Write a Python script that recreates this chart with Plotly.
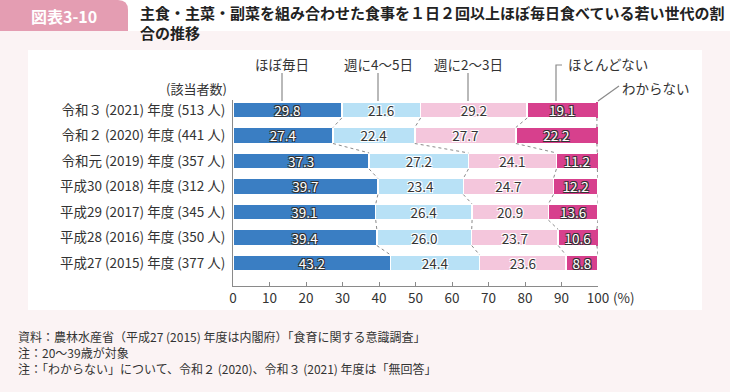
import plotly.graph_objects as go

# ---------------- data ----------------
row_labels = [
    "令和３ (2021) 年度 (513 人)",
    "令和２ (2020) 年度 (441 人)",
    "令和元 (2019) 年度 (357 人)",
    "平成30 (2018) 年度 (312 人)",
    "平成29 (2017) 年度 (345 人)",
    "平成28 (2016) 年度 (350 人)",
    "平成27 (2015) 年度 (377 人)",
]
series_names = ["ほぼ毎日", "週に4～5日", "週に2～3日", "ほとんどない", "わからない"]
almost_every_day = [29.8, 27.4, 37.3, 39.7, 39.1, 39.4, 43.2]
four_five_days = [21.6, 22.4, 27.2, 23.4, 26.4, 26.0, 24.4]
two_three_days = [29.2, 27.7, 24.1, 24.7, 20.9, 23.7, 23.6]
hardly_ever = [19.1, 22.2, 11.2, 12.2, 13.6, 10.6, 8.8]
dont_know = [0.2, 0.2, 0.3, 0, 0, 0.3, 0]
dont_know_labels = ["0.2", "0.2", "0.3", "0", "0", "0.3", "0"]
x_ticks = [0, 10, 20, 30, 40, 50, 60, 70, 80, 90, 100]

series = [almost_every_day, four_five_days, two_three_days, hardly_ever, dont_know]
colors = ["#3a7ec3", "#b8e1f6", "#f4c6dc", "#d7408d", "#d7408d"]
dark_text = [False, True, True, False, False]

FONT = "Noto Sans CJK JP"
y_pos = list(range(len(row_labels)))
BAR_W = 0.63

# figure pixel geometry -> paper coordinates helpers (layout decorations only)
W, H = 730, 392
ML, MR, MT, MB = 233, 132, 100, 106
PW, PH = W - ML - MR, H - MT - MB


def px(xp):
    return (xp - ML) / PW


def py(yp):
    return (H - MB - yp) / PH


fig = go.Figure()

WHITE_OUTLINE = "-1px -1px 0 #fff, 1px -1px 0 #fff, -1px 1px 0 #fff, 1px 1px 0 #fff"
DARK_OUTLINE = "-1px -1px 0 #333, 1px -1px 0 #333, -1px 1px 0 #333, 1px 1px 0 #333"

for k, (name, vals) in enumerate(zip(series_names, series)):
    is_last = k == len(series) - 1
    fig.add_trace(go.Bar(
        y=y_pos, x=vals, orientation="h", name=name, width=BAR_W,
        marker=dict(color=colors[k], line=dict(color="white", width=0 if is_last else 1.5)),
        text=None if is_last else [f"{v:.1f}" for v in vals],
        textposition="inside", insidetextanchor="middle", textangle=0,
        constraintext="none",
        textfont=dict(family=FONT, size=13.5,
                      color="#333" if dark_text[k] else "white",
                      shadow=WHITE_OUTLINE if dark_text[k] else DARK_OUTLINE),
        showlegend=False, hoverinfo="skip",
    ))

# cumulative boundaries for dotted connectors
cums = []
running = [0.0] * len(row_labels)
for vals in series[:4]:
    running = [r + v for r, v in zip(running, vals)]
    cums.append(list(running))

cx, cy = [], []
for c in cums:
    for i in range(len(row_labels) - 1):
        cx += [c[i], c[i + 1], None]
        cy += [i + BAR_W / 2, i + 1 - BAR_W / 2, None]
fig.add_trace(go.Scatter(x=cx, y=cy, mode="lines",
                         line=dict(color="#8a8a8a", width=1, dash="dot"),
                         showlegend=False, hoverinfo="skip"))

# "わからない" values outside the bars
totals = [sum(s[i] for s in series) for i in range(len(row_labels))]
fig.add_trace(go.Scatter(
    x=[t + 2.0 for t in totals], y=y_pos, mode="text", text=dont_know_labels,
    textposition="middle center", cliponaxis=False,
    textfont=dict(family=FONT, size=13.5, color="#333"),
    showlegend=False, hoverinfo="skip"))

shapes = []
# white title strip
shapes.append(dict(type="rect", xref="paper", yref="paper", x0=px(0), x1=px(W), y0=py(31), y1=py(0),
                   fillcolor="white", line=dict(width=0), layer="below"))
# pink title tab with rounded top-right corner
x0, x1, y0, y1, r = px(0), px(128), py(31), py(0), 10
shapes.append(dict(type="path", xref="paper", yref="paper",
                   path=(f"M {x0} {y0} L {x0} {y1} L {px(128 - r)} {y1} "
                         f"Q {x1} {y1} {x1} {py(r)} L {x1} {y0} Z"),
                   fillcolor="#e49db2", line=dict(width=0), layer="below"))
# white chart panel
shapes.append(dict(type="rect", xref="paper", yref="paper", x0=px(28), x1=px(702), y0=py(310), y1=py(50),
                   fillcolor="white", line=dict(width=0), layer="below"))

LC = "#8a8a8a"
# leader lines for series labels
for xv, ytop in [(282, 73), (378, 73), (468, 73)]:
    shapes.append(dict(type="line", xref="paper", yref="paper", x0=px(xv), x1=px(xv),
                       y0=py(ytop), y1=py(101), line=dict(color=LC, width=1.2)))
shapes.append(dict(type="path", xref="paper", yref="paper",
                   path=f"M {px(562)} {py(65)} L {px(556)} {py(65)} L {px(556)} {py(101)}",
                   line=dict(color=LC, width=1.2)))
shapes.append(dict(type="line", xref="paper", yref="paper", x0=px(598), x1=px(619),
                   y0=py(101), y1=py(86), line=dict(color=LC, width=1.2)))

annotations = []


def ann(text, x, y, size=13, color="#333", xanchor="center", yanchor="middle", weight=None):
    f = dict(family=FONT, size=size, color=color)
    if weight:
        f["weight"] = weight
    annotations.append(dict(text=text, x=px(x), y=py(y), xref="paper", yref="paper",
                            xanchor=xanchor, yanchor=yanchor, showarrow=False, font=f,
                            align="left"))


ann("図表3-10", 64, 16, size=16, color="white", weight=700)
ann("主食・主菜・副菜を組み合わせた食事を１日２回以上ほぼ毎日食べている若い世代の割<br>合の推移",
    138, 0, size=15, color="#222", xanchor="left", yanchor="top", weight=600)

ann(series_names[0], 282, 64, size=13.5)
ann(series_names[1], 378, 64, size=13.5)
ann(series_names[2], 468, 64, size=13.5)
ann(series_names[3], 566, 64, size=13.5, xanchor="left")
ann(series_names[4], 620, 88, size=13.5, xanchor="left")
ann("(該当者数)", 229, 88, size=13, xanchor="right")
ann("(%)", 611, 297, size=13.5, xanchor="left")

ann("資料：農林水産省（平成27 (2015) 年度は内閣府）「食育に関する意識調査」", 16, 336, size=12, xanchor="left")
ann("注：20～39歳が対象", 16, 352, size=12, xanchor="left")
ann("注：「わからない」について、令和２ (2020)、令和３ (2021) 年度は「無回答」", 16, 368, size=12, xanchor="left")

fig.update_layout(
    width=W, height=H,
    margin=dict(l=ML, r=MR, t=MT, b=MB, pad=0, autoexpand=False),
    barmode="stack", bargap=0.37,
    paper_bgcolor="#fbf3f4", plot_bgcolor="rgba(0,0,0,0)",
    font=dict(family=FONT, size=13, color="#333"),
    shapes=shapes, annotations=annotations,
    xaxis=dict(range=[0, 100], tickvals=x_ticks, ticktext=[str(t) for t in x_ticks],
               showgrid=False, zeroline=False, showline=True, linecolor=LC, linewidth=1,
               ticks="inside", ticklen=4, tickcolor=LC, tickwidth=1, automargin=False,
               tickfont=dict(family=FONT, size=13.5, color="#333"), fixedrange=True),
    yaxis=dict(range=[6.9, -0.39], tickvals=y_pos, ticktext=row_labels,
               showgrid=False, zeroline=False, showline=True, linecolor=LC, linewidth=1,
               ticks="", ticklabelstandoff=4, automargin=False,
               tickfont=dict(family=FONT, size=13.5, color="#333"), fixedrange=True),
)

fig.write_html("out.html", config={"displayModeBar": False},
               post_script="document.body.style.margin='0';")
